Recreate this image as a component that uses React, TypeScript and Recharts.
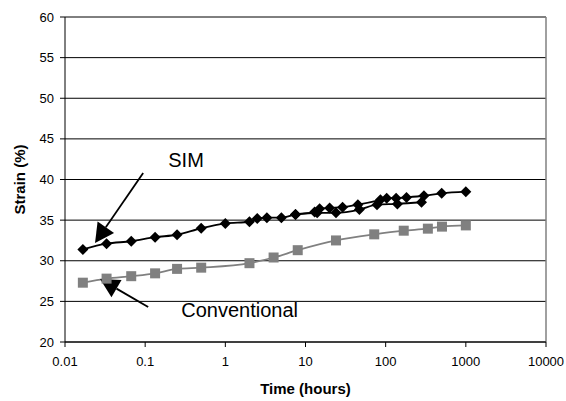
import { LineChart, Line, XAxis, YAxis, CartesianGrid, ReferenceLine, ReferenceDot } from 'recharts';

const timeTicks = [0.01, 0.1, 1, 10, 100, 1000, 10000];
const strainTicks = [20, 25, 30, 35, 40, 45, 50, 55, 60];

// SIM, main run
const simTime = [0.0167, 0.033, 0.067, 0.133, 0.25, 0.5, 1, 2, 2.5, 3.3, 5, 7.5, 13, 15, 20, 29, 45, 86, 103, 135, 182, 300, 500, 1000];
const simStrain = [31.4, 32.1, 32.4, 32.9, 33.2, 34.0, 34.6, 34.8, 35.2, 35.3, 35.3, 35.7, 36.0, 36.4, 36.5, 36.6, 36.9, 37.5, 37.7, 37.7, 37.8, 38.0, 38.3, 38.5];

// SIM, repeat run (lower band)
const simRepeatTime = [7.5, 14, 24, 47, 78, 140, 280];
const simRepeatStrain = [35.7, 35.9, 35.9, 36.3, 36.9, 37.0, 37.2];

const convTime = [0.0167, 0.033, 0.067, 0.133, 0.25, 0.5, 2, 4, 8, 24, 72, 168, 336, 504, 1000];
const convStrain = [27.3, 27.8, 28.1, 28.45, 29.0, 29.15, 29.7, 30.4, 31.3, 32.5, 33.25, 33.7, 33.95, 34.2, 34.35];

const simData = simTime.map((t, i) => ({ t, v: simStrain[i] }));
const simRepeatData = simRepeatTime.map((t, i) => ({ t, v: simRepeatStrain[i] }));
const convData = convTime.map((t, i) => ({ t, v: convStrain[i] }));

const font = 'Arial, "Liberation Sans", sans-serif';

const Diamond = (p: any) => {
  const { cx, cy } = p;
  if (cx == null || cy == null) return null;
  return <polygon points={`${cx},${cy - 5.5} ${cx + 5.5},${cy} ${cx},${cy + 5.5} ${cx - 5.5},${cy}`} fill="#000" />;
};

const Square = (p: any) => {
  const { cx, cy } = p;
  if (cx == null || cy == null) return null;
  return <rect x={cx - 5} y={cy - 5} width={10} height={10} fill="#808080" />;
};

const Arrow = (p: any) => {
  const { x1, y1, x2, y2 } = p;
  const dx = x2 - x1;
  const dy = y2 - y1;
  const len = Math.sqrt(dx * dx + dy * dy);
  const ux = dx / len;
  const uy = dy / len;
  const hl = 19;
  const hw = 10;
  const bx = x2 - ux * hl;
  const by = y2 - uy * hl;
  return (
    <g>
      <line x1={x1} y1={y1} x2={bx} y2={by} stroke="#000" strokeWidth={1.8} />
      <polygon
        points={`${x2},${y2} ${bx - uy * hw},${by + ux * hw} ${bx + uy * hw},${by - ux * hw}`}
        fill="#000"
      />
    </g>
  );
};

const Note = (text: string) => (p: any) => (
  <text x={p.cx} y={p.cy} fontSize={20} fontFamily={font} fill="#000">
    {text}
  </text>
);

export default function App() {
  return (
    <div style={{ position: 'absolute', left: 0, top: 0, background: '#fff' }}>
      <LineChart width={566} height={401} margin={{ top: 17, right: 20, bottom: 0, left: 0 }}>
        <CartesianGrid vertical={false} stroke="#000" strokeWidth={1} />
        <XAxis
          dataKey="t"
          type="number"
          scale="log"
          domain={[0.01, 10000]}
          ticks={timeTicks}
          allowDataOverflow
          height={59}
          tickSize={5}
          tickMargin={10}
          stroke="#000"
          tick={{ fill: '#000', fontSize: 13, fontFamily: font }}
          tickFormatter={(v) => String(v)}
          label={{
            content: ({ viewBox }: any) => (
              <text
                x={viewBox.x + viewBox.width / 2}
                y={viewBox.y + 52}
                textAnchor="middle"
                fontSize={15}
                fontWeight="bold"
                fontFamily={font}
                fill="#000"
              >
                Time (hours)
              </text>
            ),
          }}
        />
        <YAxis
          dataKey="v"
          type="number"
          domain={[20, 60]}
          ticks={strainTicks}
          width={65}
          tickSize={5}
          tickMargin={6}
          stroke="#000"
          tick={{ fill: '#000', fontSize: 13, fontFamily: font }}
          label={{
            content: ({ viewBox }: any) => {
              const cx = 21;
              const cy = viewBox.y + viewBox.height / 2;
              return (
                <text
                  x={cx}
                  y={cy}
                  transform={`rotate(-90 ${cx} ${cy})`}
                  textAnchor="middle"
                  dominantBaseline="middle"
                  fontSize={15}
                  fontWeight="bold"
                  fontFamily={font}
                  fill="#000"
                >
                  Strain (%)
                </text>
              );
            },
          }}
        />
        <ReferenceLine x={10000} stroke="#808080" strokeWidth={1.5} />
        <Line
          data={convData}
          dataKey="v"
          type="monotone"
          stroke="#808080"
          strokeWidth={1.8}
          dot={Square}
          isAnimationActive={false}
        />
        <Line
          data={simRepeatData}
          dataKey="v"
          type="monotone"
          stroke="#000"
          strokeWidth={1.8}
          dot={Diamond}
          isAnimationActive={false}
        />
        <Line
          data={simData}
          dataKey="v"
          type="monotone"
          stroke="#000"
          strokeWidth={1.8}
          dot={Diamond}
          isAnimationActive={false}
        />
        <ReferenceLine
          segment={[
            { x: 0.0944, y: 40.8 },
            { x: 0.0237, y: 32.2 },
          ]}
          shape={Arrow}
        />
        <ReferenceLine
          segment={[
            { x: 0.109, y: 24.3 },
            { x: 0.0274, y: 27.75 },
          ]}
          shape={Arrow}
        />
        <ReferenceDot x={0.194} y={41.54} r={0} shape={Note('SIM')} />
        <ReferenceDot x={0.282} y={23.08} r={0} shape={Note('Conventional')} />
      </LineChart>
    </div>
  );
}
